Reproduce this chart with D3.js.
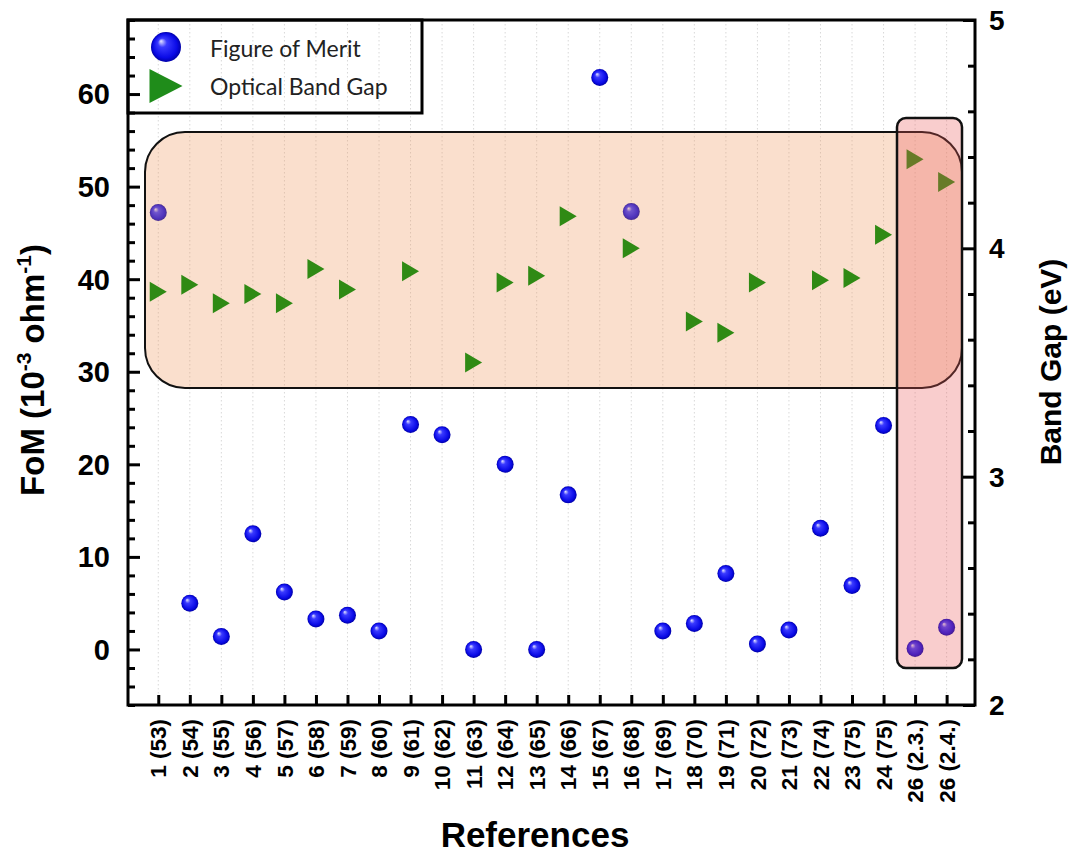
<!DOCTYPE html>
<html><head><meta charset="utf-8">
<script src="https://cdn.jsdelivr.net/npm/d3@7"></script>
<style>body{margin:0;background:#fff}</style>
</head><body>
<script>
const categories = ["1 (53)","2 (54)","3 (55)","4 (56)","5 (57)","6 (58)","7 (59)","8 (60)","9 (61)","10 (62)","11 (63)","12 (64)","13 (65)","14 (66)","15 (67)","16 (68)","17 (69)","18 (70)","19 (71)","20 (72)","21 (73)","22 (74)","23 (75)","24 (75)","26 (2.3.)","26 (2.4.)"];
const fom = [47.2,5.0,1.4,12.5,6.2,3.3,3.7,2.0,24.3,23.2,0.0,20.0,0.0,16.7,61.8,47.3,2.0,2.8,8.2,0.6,2.1,13.1,6.9,24.2,0.1,2.4];
const bandGap = [3.81,3.84,3.76,3.80,3.76,3.91,3.82,null,3.90,null,3.50,3.85,3.88,4.14,null,4.00,null,3.68,3.63,3.85,null,3.86,3.87,4.06,4.39,4.29];
const leftTicks = [0,10,20,30,40,50,60];
const rightTicks = [2,3,4,5];

const W=1074,H=855;
const L=128,R=975,T=20,B=705;
const svg=d3.select("body").append("svg").attr("width",W).attr("height",H);
const defs=svg.append("defs");
const g1=defs.append("radialGradient").attr("id","sph").attr("cx","0.5").attr("cy","0.5").attr("r","0.5").attr("fx","0.33").attr("fy","0.3");
g1.append("stop").attr("offset","0").attr("stop-color","#e8e8ff");
g1.append("stop").attr("offset","0.3").attr("stop-color","#3a3aff");
g1.append("stop").attr("offset","0.8").attr("stop-color","#0a0ae6");
g1.append("stop").attr("offset","1").attr("stop-color","#0000a8");

const x=d3.scaleLinear().domain([0.04,26.9]).range([L,R]);
const yL=d3.scaleLinear().domain([-6,68]).range([B,T]);
const yR=d3.scaleLinear().domain([2,5]).range([B,T]);
const idx=categories.map((c,i)=>i+1);

// grid
svg.append("g").selectAll("line").data(idx).join("line")
  .attr("x1",d=>x(d)).attr("x2",d=>x(d)).attr("y1",T).attr("y2",B)
  .attr("stroke","#d8d8d8").attr("stroke-width",1).attr("stroke-dasharray","1.5,2.5");

// circles
const circ=svg.append("g");
circ.selectAll("circle").data(fom).join("circle")
  .attr("cx",(d,i)=>x(i+1)).attr("cy",d=>yL(d)).attr("r",8.5).attr("fill","url(#sph)");

// orange highlight
svg.append("rect").attr("x",145).attr("y",132).attr("width",962-145).attr("height",388-132)
  .attr("rx",40).attr("ry",40).attr("fill","rgb(240,150,90)").attr("fill-opacity",0.3)
  .attr("stroke","#111").attr("stroke-width",2);

// triangles
const tri=(cx,cy,w,h)=>`M${cx-w/2},${cy-h/2}L${cx+w/2},${cy}L${cx-w/2},${cy+h/2}Z`;
svg.append("g").selectAll("path").data(bandGap.map((v,i)=>({v,i})).filter(d=>d.v!=null)).join("path")
  .attr("d",d=>tri(x(d.i+1),yR(d.v),17,20)).attr("fill","#2f8a14");

// pink highlight
svg.append("rect").attr("x",897).attr("y",118).attr("width",962-897).attr("height",668-118)
  .attr("rx",9).attr("ry",9).attr("fill","rgb(235,90,90)").attr("fill-opacity",0.3)
  .attr("stroke","#111").attr("stroke-width",2.5);

// axes
const fontB="'Liberation Sans',Arial,sans-serif";
const axL=svg.append("g").attr("transform",`translate(${L},0)`)
  .call(d3.axisRight(yL).tickValues(d3.range(-6,69,2)).tickSize(7).tickFormat(""));
axL.selectAll(".tick line").filter(d=>d%10===0).attr("x2",12);
const axR=svg.append("g").attr("transform",`translate(${R},0)`)
  .call(d3.axisLeft(yR).tickValues(d3.range(2,5.01,0.2).map(v=>+v.toFixed(1))).tickSize(7).tickFormat(""));
axR.selectAll(".tick line").filter(d=>Math.abs(d-Math.round(d))<1e-6).attr("x2",-12);
const axB=svg.append("g").attr("transform",`translate(0,${B})`)
  .call(d3.axisTop(x).tickValues(idx).tickSize(10).tickFormat(""));
[axL,axR,axB].forEach(a=>{a.select(".domain").remove();a.selectAll(".tick line").attr("stroke","#000").attr("stroke-width",3);});

// frame
svg.append("rect").attr("x",L).attr("y",T).attr("width",R-L).attr("height",B-T)
  .attr("fill","none").attr("stroke","#000").attr("stroke-width",3);

// tick labels
svg.append("g").selectAll("text").data(leftTicks).join("text")
  .attr("x",110).attr("y",d=>yL(d)).attr("dy","0.36em").attr("text-anchor","end")
  .attr("font-family",fontB).attr("font-weight","bold").attr("font-size",29).text(d=>d);
svg.append("g").selectAll("text").data(rightTicks).join("text")
  .attr("x",989).attr("y",d=>yR(d)).attr("dy","0.36em").attr("text-anchor","start")
  .attr("font-family",fontB).attr("font-weight","bold").attr("font-size",28).text(d=>d);
svg.append("g").selectAll("text").data(categories).join("text")
  .attr("transform",(d,i)=>`translate(${x(i+1)},719) rotate(-90)`).attr("dy","0.36em")
  .attr("text-anchor","end").attr("font-family",fontB).attr("font-weight","bold").attr("font-size",22.5)
  .text(d=>d);

// axis titles
const yt=svg.append("text").attr("transform","translate(44,370) rotate(-90)").attr("text-anchor","middle")
  .attr("font-family",fontB).attr("font-weight","bold").attr("font-size",33);
yt.append("tspan").text("FoM (10");
yt.append("tspan").attr("font-size",21).attr("dy",-13).text("-3");
yt.append("tspan").attr("dy",13).text(" ohm");
yt.append("tspan").attr("font-size",21).attr("dy",-13).text("-1");
yt.append("tspan").attr("dy",13).text(")");
svg.append("text").attr("transform","translate(1061,362) rotate(-90)").attr("text-anchor","middle")
  .attr("font-family",fontB).attr("font-weight","bold").attr("font-size",30).text("Band Gap (eV)");
svg.append("text").attr("x",535).attr("y",847).attr("text-anchor","middle")
  .attr("font-family",fontB).attr("font-weight","bold").attr("font-size",35).text("References");

// legend
svg.append("rect").attr("x",L).attr("y",T).attr("width",422-L).attr("height",113-T)
  .attr("fill","none").attr("stroke","#000").attr("stroke-width",3);
svg.append("circle").attr("cx",166).attr("cy",47).attr("r",15).attr("fill","url(#sph)");
svg.append("path").attr("d",tri(166,86,33,34)).attr("fill","#1f8c1a");
const lf="Lato,'Open Sans',sans-serif";
svg.append("text").attr("x",210).attr("y",57).attr("font-family",lf).attr("font-size",23).attr("fill","#222").text("Figure of Merit");
svg.append("text").attr("x",210).attr("y",95).attr("font-family",lf).attr("font-size",23).attr("fill","#222").text("Optical Band Gap");
</script>
</body></html>
